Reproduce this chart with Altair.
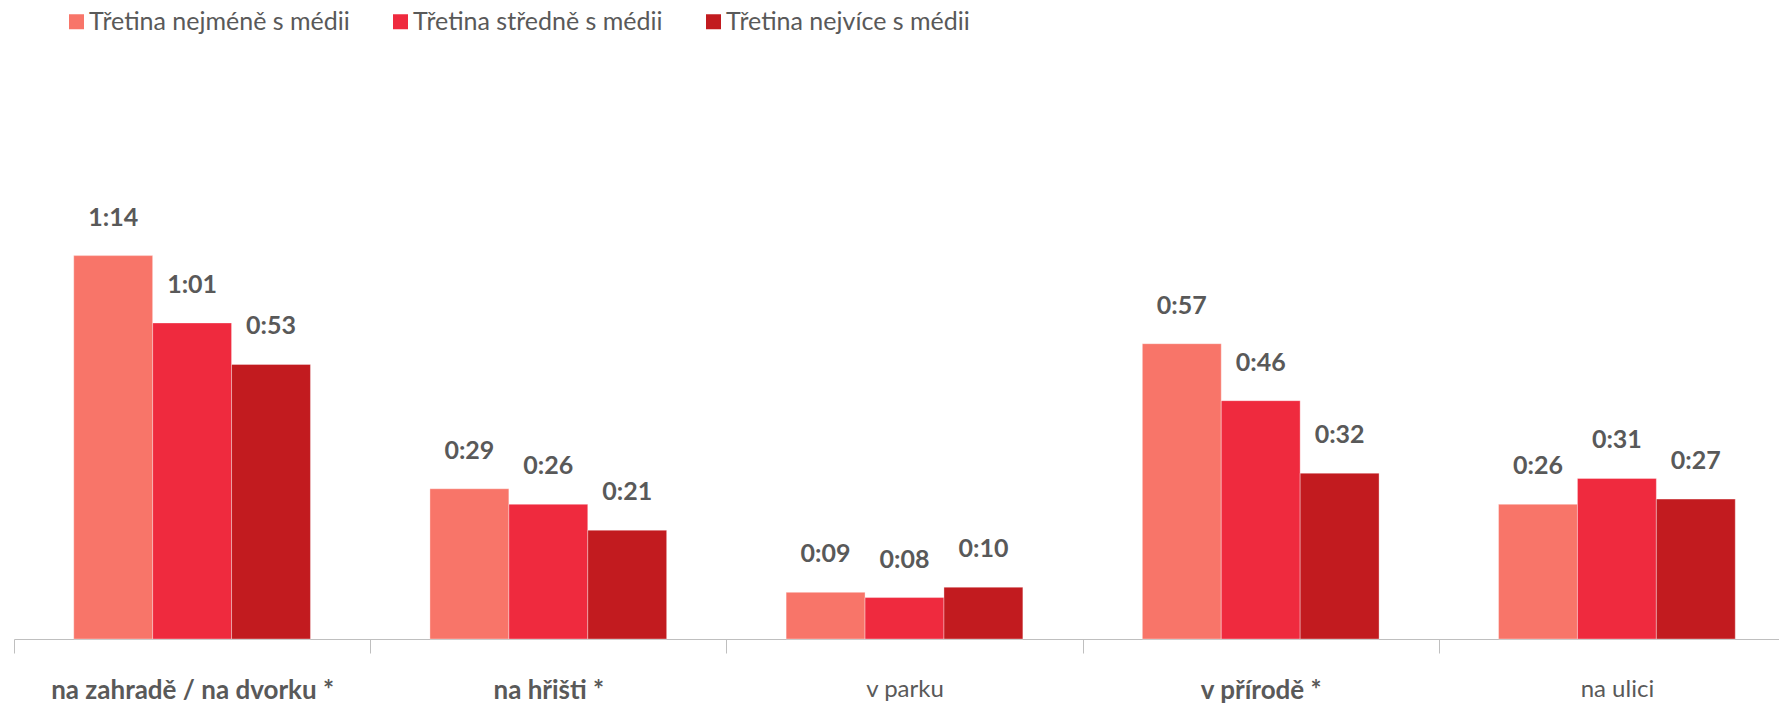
import altair as alt
import pandas as pd

categories = ["na zahradě / na dvorku *", "na hřišti *", "v parku", "v přírodě *", "na ulici"]
groups = ["Třetina nejméně s médii", "Třetina středně s médii", "Třetina nejvíce s médii"]
least = [74, 29, 9, 57, 26]
middle = [61, 26, 8, 46, 31]
most = [53, 21, 10, 32, 27]
colors = ["#F87569", "#EF2A3E", "#C21B1F"]

rows = []
for g, vals in zip(groups, [least, middle, most]):
    for c, v in zip(categories, vals):
        rows.append({"kategorie": c, "skupina": g, "minuty": v,
                     "popisek": f"{v // 60}:{v % 60:02d}"})
df = pd.DataFrame(rows)

FONT = "Lato"
GRAY = "#595959"

x = alt.X("kategorie:N", sort=categories,
          scale=alt.Scale(paddingInner=0, paddingOuter=0, range=[0, 1781]),
          axis=alt.Axis(title=None, labelAngle=0, tickBand="extent",
                        domainColor="#BFBFBF", tickColor="#BFBFBF", tickSize=14,
                        labelColor=GRAY, labelFont=FONT,
                        labelPadding=24, grid=False, labelLimit=0,
                        labelFontSize={"expr": "indexof(datum.label, '*') >= 0 ? 26 : 24"},
                        labelFontWeight={"expr": "indexof(datum.label, '*') >= 0 ? 'bold' : 'normal'"}))
xoff = alt.XOffset("skupina:N", sort=groups,
                   scale=alt.Scale(paddingInner=0, paddingOuter=0.757))
y = alt.Y("minuty:Q", scale=alt.Scale(domain=[0, 121.6], nice=False), axis=None)

bars = alt.Chart(df).mark_bar(stroke="#ffffff", strokeOpacity=0.35, strokeWidth=1).encode(
    x=x, xOffset=xoff, y=y,
    color=alt.Color("skupina:N", sort=groups,
                    scale=alt.Scale(domain=groups, range=colors),
                    legend=alt.Legend(title=None, orient="none", legendX=50, legendY=0,
                                      direction="horizontal", symbolType="square",
                                      symbolSize=225, labelFontSize=25, labelColor=GRAY,
                                      labelFont=FONT, columnPadding=38, labelLimit=0,
                                      symbolStrokeWidth=0, labelOffset=0)),
)

labels = alt.Chart(df).mark_text(dy=-38, baseline="middle", fontWeight="bold",
                                 fontSize=25, color=GRAY, font=FONT).encode(
    x=x, xOffset=xoff, y=y, text="popisek:N"
)

chart = (bars + labels).properties(
    width=1765, height=630,
    padding={"left": 6, "right": 0, "top": 1, "bottom": 66},
    autosize=alt.AutoSizeParams(type="none"),
).configure_view(stroke=None)

chart.save("out.html", embed_options={"renderer": "svg", "actions": False})
